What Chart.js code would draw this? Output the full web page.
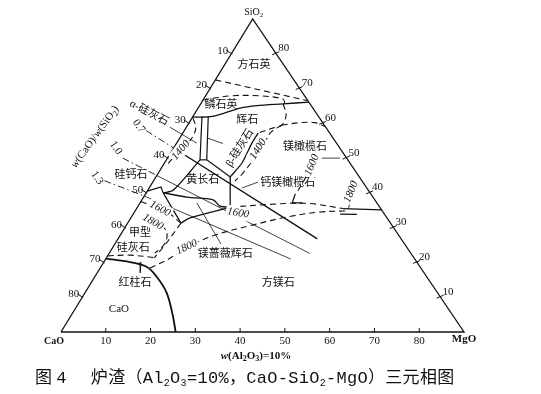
<!DOCTYPE html>
<html><head><meta charset="utf-8">
<script src="https://cdn.jsdelivr.net/npm/chart.js@4"></script>
<style>
html,body{margin:0;padding:0;background:#fff;}
#wrap{position:relative;width:541px;height:394px;overflow:hidden;}
#c{position:absolute;left:0;top:0;}
#cap{position:absolute;left:35px;top:369px;font-size:17px;letter-spacing:0.3px;font-family:"Liberation Mono","Noto Sans CJK SC",monospace;white-space:pre;color:#111;line-height:20px;}
#cap sub{font-size:10px;vertical-align:-3px;line-height:0;}
#cap .g1{margin-left:4px;} #cap .g2{margin-left:24px;}
</style></head><body>
<div id="wrap"><canvas id="c" width="541" height="394"></canvas>
<div id="cap">图<span class="g1">4</span><span class="g2">炉渣（Al<sub>2</sub>O<sub>3</sub>=10%，CaO-SiO<sub>2</sub>-MgO）三元相图</span></div></div>
<script>
// ---- compositions: [MgO %, SiO2 %]; CaO = 90 - MgO - SiO2 (Al2O3 fixed at 10 %) ----
const tickValues = [10,20,30,40,50,60,70,80];
const triangle = [[0,0],[90,0],[0,90],[0,0]];
const cristobaliteBoundary = [[0,72.5],[23.5,66.5]];
const tridymiteUpper = [[0,66.7],[5.5,67.9],[12.2,67.9],[17.7,67.0],[18.7,65.8]];
const pyroxeneUpper = [[0,61.8],[4.3,62.0],[9.4,64.4],[12.8,65.1],[18.4,65.6],[23.9,66.1]];
const pyroxeneRight = [[18.4,65.6],[20.6,62.4],[21.0,59.5],[19.5,58.7],[16.8,57.2]];
const forsteriteUpper = [[21.0,59.5],[24.7,60.2],[28.1,60.2],[30.9,59.1]];
const iso1400Mid = [[21.0,59.5],[19.5,57.2],[19.8,53.2],[19.4,49.5],[18.9,45.7],[18.2,43.4]];
const betaWollastonite = [[16.8,57.2],[16.8,54.3],[17.3,48.6],[16.6,44.6]];
const wollBarLeft = [[2.0,62.0],[7.5,49.5]];
const wollBarRight = [[3.4,62.0],[9.0,49.5]];
const wollBarBase = [[7.5,49.5],[9.0,49.5]];
const iso1400Left = [[0.2,61.5],[2.1,58.9],[2.7,56.4],[2.5,54.3],[1.2,50.0],[0.8,47.7]];
const meliliteTopLeft = [[7.5,49.5],[5.7,40.8],[3.8,40.0]];
const meliliteTopRight = [[9.0,49.5],[16.6,44.6]];
const meliliteRight = [[16.6,44.6],[20.7,35.9]];
const meliliteBottom = [[3.8,40.0],[9.7,38.8],[15.9,38.0],[18.3,36.2],[20.7,35.9]];
const rankiniteBoundary = [[0,40.5],[2.5,41.7],[3.8,40.0]];
const merwiniteLeft = [[3.8,40.0],[11.9,31.3]];
const merwiniteUpper = [[11.9,31.3],[13.2,32.8],[18.8,35.1],[20.7,35.9]];
const iso1600Left = [[0,37.5],[2.5,36.5],[8.2,33.9],[10.2,32.5],[11.9,31.3]];
const iso1800Left = [[2.6,33.1],[9.2,29.6],[10.8,27.0],[11.0,24.7],[10.2,22.7]];
const wollastoniteSide = [[11.9,31.3],[11.4,25.6],[10.7,21.3]];
const wollastoniteLower = [[0,21.9],[4.9,22.1],[11.3,21.3]];
const limeLiquidus = [[0,21.1],[5.8,20.1],[10.3,18.7],[13.9,15.8],[18.3,11.2],[22.8,4.6],[25.6,0]];
const iso1800Lower = [[11.1,18.4],[13.8,20.7],[15.6,23.0],[18.6,26.2],[22.0,28.3],[28.3,30.8],[34.8,33.1],[41.4,34.5],[46.9,34.8]];
const iso1800Tail = [[46.2,33.9],[50.0,33.8]];
const iso1600Mid = [[20.7,35.9],[29.3,36.7],[37.4,37.0],[46.1,35.5]];
const periclaseBoundary = [[46.1,35.5],[54.9,35.1]];
const iso1600Right = [[33.5,44.6],[33.6,42.0],[33.5,39.4]];
const monticelliteMark = [[33.5,39.4],[34.0,37.1],[36.2,37.1]];
const iso1600RightLeader = [[34.1,50.0],[38.5,50.0]];
const iso1800RightLeader = [[46.9,37.1],[47.3,35.5]];
const ratio07Outer = [[-8.5,57.9],[0,52.9]];
const ratio07Inner = [[0,52.9],[44.5,26.8]];
const ratio10Outer = [[-10,50],[0,45]];
const ratio10Inner = [[0,45],[44.8,22.6]];
const ratio13Outer = [[-11,43.5],[0,39.1]];
const ratio13Inner = [[0,39.1],[41.3,21.0]];
const alphaLeader = [[-3.7,58.9],[4.5,54.3]];
const pyroxLeader = [[6.1,55.8],[10.4,54.2]];
const merwLeader = [[12.7,37.1],[23.7,25.3]];
const rankLeader = [[8.3,20.1],[9.6,17.0]];
const montLeader = [[23.5,43.1],[20.7,41.4]];

// ---- layout (not data) ----
const APEX = 0.4756;      // horizontal position of the SiO2 apex as fraction of base
const DASH = [6,4], DASHDOT = [7,3,1.5,3];
const fieldLabels = [
  ['方石英',6.6,76.8,0],['鳞石英',4.7,65.3,0],['辉石',12.6,61.0,0],
  ['β-硅灰石',14.8,52.9,-58],['α-硅灰石',-10.3,63.0,28],['镁橄榄石',29.2,53.2,0],
  ['钙镁橄榄石',30.3,42.8,0],['黄长石',10.9,43.7,0],['硅钙石',-5.8,45.1,0],
  ['甲型',4.1,28.5,0],['硅灰石',4.6,24.2,0],['红柱石',9.8,14.1,0],['CaO',9.8,6.6,0],
  ['镁蔷薇辉石',26.0,22.4,0],['方镁石',41.8,14.1,0]
];
const isoLabels = [
  ['1400',1.9,52.3,-50],['1400',19.0,52.6,-58],['1600',5.3,35.4,28],['1600',23.3,34.2,10],
  ['1600',33.2,48.0,-68],['1800',5.5,31.6,30],['1800',16.5,24.4,-25],['1800',45.6,40.3,-68]
];
const ratioLabels = [['0.7',-10.8,59.2,55],['1.0',-12.9,52.9,55],['1.3',-13.0,44.3,55]];

function pts(a){return a.map(p=>({x:p[0]+p[1]*APEX,y:p[1]}));}
function ds(a,o){return Object.assign({data:pts(a),showLine:true,borderColor:'#111',borderWidth:1.1,
  pointRadius:0,pointHoverRadius:0,fill:false,tension:0,clip:false},o||{});}
const S = {borderWidth:1.2};
const D = {borderDash:DASH,borderWidth:1.1};
const DC = {borderDash:DASH,borderWidth:1.1,tension:0.35};
const T = {borderWidth:0.8};

const datasets = [
  ds(triangle,{borderWidth:1.3}),
  ds(cristobaliteBoundary,D), ds(tridymiteUpper,DC), ds(pyroxeneUpper,{borderWidth:1.3,tension:0.3}),
  ds(pyroxeneRight,DC), ds(forsteriteUpper,DC), ds(iso1400Mid,DC), ds(betaWollastonite,{borderWidth:1.3,tension:0.2}),
  ds(wollBarLeft,S), ds(wollBarRight,S), ds(wollBarBase,S), ds(iso1400Left,DC),
  ds(meliliteTopLeft,{borderWidth:1.3,tension:0.3}), ds(meliliteTopRight,S), ds(meliliteRight,S),
  ds(meliliteBottom,{borderWidth:1.3,tension:0.3}), ds(rankiniteBoundary,S), ds(merwiniteLeft,S),
  ds(merwiniteUpper,{borderWidth:1.3,tension:0.3}), ds(iso1600Left,DC), ds(iso1800Left,DC),
  ds(wollastoniteSide,D), ds(wollastoniteLower,DC), ds(limeLiquidus,{borderWidth:1.8,tension:0.35}),
  ds(iso1800Lower,DC), ds(iso1800Tail,{borderWidth:1.3}), ds(iso1600Mid,DC), ds(periclaseBoundary,{borderWidth:1.3}),
  ds(iso1600Right,DC), ds(monticelliteMark,S), ds(iso1600RightLeader,T), ds(iso1800RightLeader,T),
  ds(ratio07Outer,{borderDash:DASHDOT,borderWidth:0.9}), ds(ratio07Inner,{borderWidth:1.4}),
  ds(ratio10Outer,{borderDash:DASHDOT,borderWidth:0.9}), ds(ratio10Inner,T),
  ds(ratio13Outer,{borderDash:DASHDOT,borderWidth:0.9}), ds(ratio13Inner,T),
  ds(alphaLeader,T), ds(pyroxLeader,T), ds(merwLeader,T), ds(rankLeader,T), ds(montLeader,T)
];

const FAM = '"Liberation Serif","Noto Sans CJK SC",serif';
function rich(ctx,parts,x,y,rot,size,opt){
  opt=opt||{};
  ctx.save(); ctx.translate(x,y); ctx.rotate(rot*Math.PI/180);
  const f=st=>(st==='i'?'italic ':'')+(opt.bold?'bold ':'')+(st==='s'?Math.round(size*0.7):size)+'px '+FAM;
  let w=0; parts.forEach(p=>{ctx.font=f(p[1]);w+=ctx.measureText(p[0]).width;});
  let cx=opt.align==='left'?0:opt.align==='right'?-w:-w/2;
  if(opt.bg){ctx.fillStyle='#fff';ctx.fillRect(cx-1.5,-size/2-1,w+3,size+2);}
  ctx.fillStyle='#111'; ctx.textBaseline='middle'; ctx.textAlign='left';
  parts.forEach(p=>{ctx.font=f(p[1]);ctx.fillText(p[0],cx,p[1]==='s'?size*0.3:0);cx+=ctx.measureText(p[0]).width;});
  ctx.restore();
}

const ternaryText = {
  id:'ternaryText',
  afterDatasetsDraw(chart){
    const ctx=chart.ctx, X=chart.scales.x, Y=chart.scales.y;
    const P=(m,s)=>[X.getPixelForValue(m+s*APEX),Y.getPixelForValue(s)];
    ctx.save(); ctx.strokeStyle='#111'; ctx.lineWidth=1;
    tickValues.forEach(k=>{
      // left edge: CaO
      let [x,y]=P(0,90-k);
      ctx.beginPath();ctx.moveTo(x-5,y-3.5);ctx.lineTo(x+1,y+0.5);ctx.stroke();
      rich(ctx,[[String(k),'']],x-3,y-3,0,11,{align:'right'});
      // right edge: SiO2
      [x,y]=P(90-k,k);
      ctx.beginPath();ctx.moveTo(x-4,y+1);ctx.lineTo(x+3,y-2);ctx.stroke();
      rich(ctx,[[String(k),'']],x+2,y-5.5,0,11,{align:'left'});
      // bottom: MgO
      [x,y]=P(k,0);
      ctx.beginPath();ctx.moveTo(x,y);ctx.lineTo(x,y-4);ctx.stroke();
      rich(ctx,[[String(k),'']],x,y+9,0,11);
    });
    let [ax,ay]=P(0,90); rich(ctx,[['SiO',''],['2','s']],ax+1,ay-7,0,10);
    let [cx0,cy0]=P(0,0); rich(ctx,[['CaO','']],cx0-7,cy0+9,0,10,{bold:true});
    let [mx,my]=P(90,0); rich(ctx,[['MgO','']],mx,my+7,0,11,{bold:true});
    rich(ctx,[['w','i'],['(Al',''],['2','s'],['O',''],['3','s'],[')=10%','']],256,356,0,11,{bold:true});
    fieldLabels.forEach(l=>{const [x,y]=P(l[1],l[2]);rich(ctx,[[l[0],'']],x,y,l[3],11);});
    isoLabels.forEach(l=>{const [x,y]=P(l[1],l[2]);rich(ctx,[[l[0],'i']],x,y,l[3],11,{bg:true});});
    ratioLabels.forEach(l=>{const [x,y]=P(l[1],l[2]);rich(ctx,[[l[0],'']],x,y,l[3],11);});
    const [wx,wy]=P(-19.1,56.1);
    rich(ctx,[['w','i'],['(CaO)/',''],['w','i'],['(SiO',''],['2','s'],[')','']],wx,wy,-54,11);
    ctx.restore();
  }
};

new Chart(document.getElementById('c'),{
  type:'scatter',
  data:{datasets},
  options:{responsive:false,animation:false,devicePixelRatio:1,events:[],
    layout:{padding:{left:61,right:77,top:19,bottom:62}},
    plugins:{legend:{display:false},tooltip:{enabled:false}},
    scales:{x:{type:'linear',min:0,max:90,display:false},y:{type:'linear',min:0,max:90,display:false}}},
  plugins:[ternaryText]
});
</script></body></html>
